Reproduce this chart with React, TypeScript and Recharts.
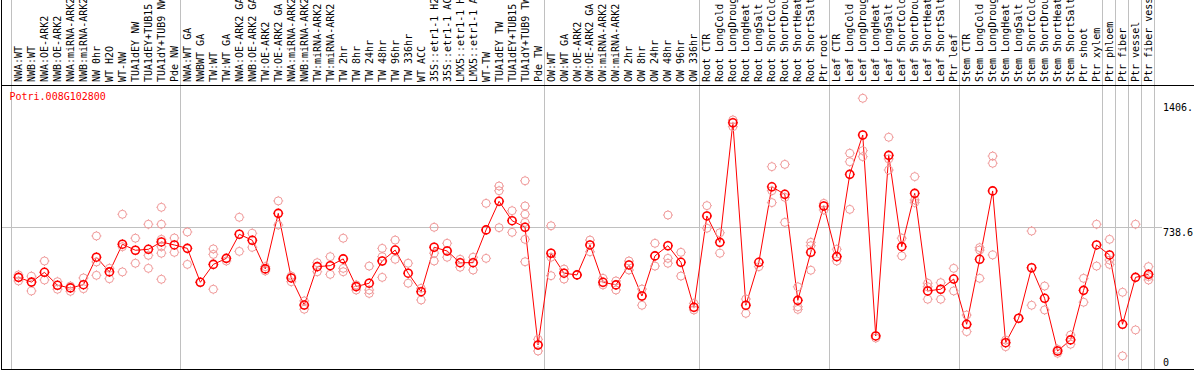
import React from 'react';
import { ComposedChart, Line, Scatter, XAxis, YAxis, ReferenceLine } from 'recharts';

const geneId = 'Potri.008G102800';

const categories = [
  'NWA:WT', 'NWB:WT', 'NWA:OE-ARK2', 'NWB:OE-ARK2', 'NWA:miRNA-ARK2', 'NWB:miRNA-ARK2', 'NW 0hr', 'WT H2O', 'WT-NW',
  'TUA1dEY NW', 'TUA1dEY+TUB15', 'TUA1dY+TUB9 NW', 'Pde NW',
  'NWA:WT GA', 'NWBWT GA', 'TW:WT', 'TW:WT GA', 'NWA:OE-ARK2 GA', 'NWB:OE-ARK2 GA', 'TW:OE-ARK2', 'TW:OE-ARK2 GA',
  'NWA:miRNA-ARK2', 'NWB:miRNA-ARK2', 'TW:miRNA-ARK2', 'TW:miRNA-ARK2', 'TW 2hr', 'TW 8hr', 'TW 24hr', 'TW 48hr',
  'TW 96hr', 'TW 336hr', 'WT ACC', '35S::etr1-1 H2', '35S::etr1-1 AC', 'LMX5::etr1-1 H', 'LMX5::etr1-1 A', 'WT-TW',
  'TUA1dEY TW', 'TUA1dEY+TUB15', 'TUA1dY+TUB9 TW', 'Pde TW',
  'OW:WT', 'OW:WT GA', 'OW:OE-ARK2', 'OW:OE-ARK2 GA', 'OW:miRNA-ARK2', 'OW:miRNA-ARK2', 'OW 2hr', 'OW 8hr',
  'OW 24hr', 'OW 48hr', 'OW 96hr', 'OW 336hr',
  'Root CTR', 'Root LongCold', 'Root LongDroug', 'Root LongHeat', 'Root LongSalt', 'Root ShortCold', 'Root ShortDrou',
  'Root ShortHeat', 'Root ShortSalt', 'Ptr root',
  'Leaf CTR', 'Leaf LongCold', 'Leaf LongDroug', 'Leaf LongHeat', 'Leaf LongSalt', 'Leaf ShortCold', 'Leaf ShortDrou',
  'Leaf ShortHeat', 'Leaf ShortSalt', 'Ptr leaf',
  'Stem CTR', 'Stem LongCold', 'Stem LongDroug', 'Stem LongHeat', 'Stem LongSalt', 'Stem ShortCold', 'Stem ShortDrou',
  'Stem ShortHeat', 'Stem ShortSalt', 'Ptr shoot',
  'Ptr xylem', 'Ptr phloem', 'Ptr fiber', 'Ptr vessel', 'Ptr fiber vess',
];

const means = [
  478, 453, 505, 436, 422, 439, 585, 507, 654, 622,
  627, 666, 650, 632, 452, 547, 579, 707, 675, 523,
  818, 475, 331, 535, 540, 576, 429, 447, 565, 623,
  500, 402, 638, 618, 556, 556, 730, 882, 779, 744,
  119, 606, 500, 491, 650, 452, 438, 544, 379, 592,
  646, 558, 319, 804, 664, 1299, 330, 558, 959, 919,
  356, 611, 857, 588, 1025, 1234, 167, 1126, 641, 924,
  406, 415, 469, 229, 574, 937, 131, 261, 529, 367,
  87, 146, 409, 650, 597, 229, 478, 494,
];

const replicates: number[][] = [
  [491, 459], [484, 406], [565, 464], [455, 415], [432, 404], [475, 418], [698, 560, 489], [526, 471],
  [813, 641, 507], [686, 553], [760, 595, 526], [850, 760, 680, 641, 606, 468], [687, 611], [719, 547],
  [452], [629, 600, 415], [565], [797, 616], [712, 638], [535, 512], [884, 756], [485, 455], [353, 309],
  [556, 508], [588, 494], [686, 526, 508], [438, 411], [538, 411, 393], [632, 588, 478], [676, 574],
  [553, 447], [420, 358], [744, 606, 565], [659, 585], [574, 532], [585, 517], [871, 579], [963, 938, 742],
  [832, 717], [991, 857, 813, 770, 680, 561], [149, 87], [752, 585, 487], [522, 469], [491], [676, 614],
  [473, 438], [459, 411], [565, 517], [416, 330], [659, 538], [809, 579, 553], [611, 485], [340, 305],
  [859, 739], [715, 606], [1314, 1278], [363, 287], [535], [1066, 938, 875], [1078, 903, 770],
  [428, 322, 308], [664, 646, 516], [871, 836], [627, 565], [1137, 1092, 839], [1429, 1151, 1119], [156],
  [1222, 1107, 1048], [686, 592], [1013, 889, 875], [447, 428, 362], [450, 362], [526, 406], [278, 190],
  [636, 623, 473], [1122, 1084, 597], [145, 110], [261], [724, 330], [432, 305], [96, 75], [172, 123],
  [473, 346], [760, 538], [680, 570, 547], [399, 61], [760, 199], [535, 482, 464],
];

const groupBoundaries = [-0.5, 12.5, 40.5, 52.5, 62.5, 72.5, 83.5, 84.5, 85.5, 86.5, 87.5];
const gridValue = 738.6;
const yTicks = [0, 738.6, 1406];
const yTickLabels = ['0', '738.6', '1406.'];
const yDomain: [number, number] = [-8.5, 1494.1];

const FONT = "'DejaVu Sans Mono', monospace";
const RED = '#ff0000';
const PINK = '#f09a9a';
const GRID = '#c0c0c0';

const chartData = categories.map((name, i) => ({ x: i, name, mean: means[i] }));
const repData = replicates.flatMap((vals, i) => vals.map((v) => ({ x: i, v })));
const tickIdx = categories.map((_, i) => i);

const Marker = ({ cx, cy, color, w }: any) => {
  if (cx == null || cy == null) return null;
  const r = 4;
  return (
    <g>
      <circle cx={cx} cy={cy} r={r} fill="none" stroke={color} strokeWidth={w} />
      <line x1={cx} y1={cy - r - 1} x2={cx} y2={cy - r} stroke={color} strokeWidth={1} />
      <line x1={cx} y1={cy + r} x2={cx} y2={cy + r + 1} stroke={color} strokeWidth={1} />
      <line x1={cx - r - 1} y1={cy} x2={cx - r} y2={cy} stroke={color} strokeWidth={1} />
      <line x1={cx + r} y1={cy} x2={cx + r + 1} y2={cy} stroke={color} strokeWidth={1} />
    </g>
  );
};

const XTick = (props: any) => {
  const { x, payload } = props;
  const label = categories[payload.value];
  if (label == null) return null;
  return (
    <text
      transform={`translate(${x + 3.5},82) rotate(-90)`}
      fontFamily={FONT}
      fontSize={10}
      fill="#000"
      textAnchor="start"
    >
      {label}
    </text>
  );
};

const YTick = (props: any) => {
  const { x, y, payload } = props;
  const idx = yTicks.indexOf(payload.value);
  const label = idx >= 0 ? yTickLabels[idx] : String(payload.value);
  return (
    <text x={x} y={Math.min(y + 8, 365.5)} fontFamily={FONT} fontSize={10} fill="#000" textAnchor="start">
      {label}
    </text>
  );
};

const VLine = (p: any) => {
  const x = Math.round(p.x1) - 0.5;
  return <line x1={x} x2={x} y1={0} y2={369} stroke={GRID} strokeWidth={1} />;
};

const HLine = (p: any) => {
  const y = Math.round(p.y1) - 0.5;
  return <line x1={1} x2={1162} y1={y} y2={y} stroke={GRID} strokeWidth={1} />;
};

export default function App() {
  return (
    <div style={{ position: 'absolute', left: 0, top: 0, width: 1194, height: 370, background: '#fff', overflow: 'hidden' }}>
      <ComposedChart
        width={1194}
        height={370}
        data={chartData}
        margin={{ top: 0, right: 0, bottom: 1, left: 12 }}
      >
        <XAxis
          dataKey="x"
          type="number"
          orientation="top"
          height={86}
          domain={[-0.5, 87.5]}
          ticks={tickIdx}
          interval={0}
          tick={<XTick />}
          tickLine={false}
          axisLine={false}
          allowDataOverflow
        />
        <YAxis
          type="number"
          orientation="right"
          width={39}
          domain={yDomain}
          ticks={yTicks}
          interval={0}
          tick={<YTick />}
          tickLine={false}
          axisLine={false}
          tickSize={6}
          tickMargin={2}
          allowDataOverflow
        />
        {groupBoundaries.map((b) => (
          <ReferenceLine key={`b${b}`} x={b} stroke={GRID} shape={<VLine />} ifOverflow="visible" />
        ))}
        <ReferenceLine y={gridValue} stroke={GRID} shape={<HLine />} ifOverflow="visible" />
        <Scatter
          data={repData}
          dataKey="v"
          isAnimationActive={false}
          shape={(p: any) => <Marker cx={p.cx} cy={p.cy} color={PINK} w={1} />}
        />
        <Line
          dataKey="mean"
          stroke={RED}
          strokeWidth={1}
          isAnimationActive={false}
          dot={(p: any) => (
            <g key={`m${p.index}`}>
              <Marker cx={p.cx} cy={p.cy} color={RED} w={1.6} />
            </g>
          )}
          activeDot={false}
        />
      </ComposedChart>
      <svg
        width={1194}
        height={370}
        style={{ position: 'absolute', left: 0, top: 0, pointerEvents: 'none' }}
      >
        <line x1={1.5} x2={1.5} y1={0} y2={370} stroke="#000" strokeWidth={1} />
        <line x1={1} x2={1194} y1={85.5} y2={85.5} stroke="#000" strokeWidth={1} />
        <line x1={1} x2={1194} y1={369.5} y2={369.5} stroke="#000" strokeWidth={1} />
        <text x={9.5} y={100} fontFamily={FONT} fontSize={10} fill={RED}>
          {geneId}
        </text>
      </svg>
    </div>
  );
}
